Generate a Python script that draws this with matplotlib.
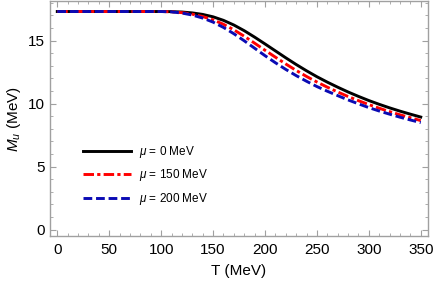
import matplotlib
matplotlib.use("Agg")
import matplotlib.pyplot as plt
from matplotlib.ticker import MultipleLocator

plt.rcParams['font.family'] = ['Liberation Sans', 'DejaVu Sans']
plt.rcParams['mathtext.fontset'] = 'custom'
plt.rcParams['mathtext.rm'] = 'Liberation Sans'
plt.rcParams['mathtext.it'] = 'Liberation Sans:italic'

T = [0, 10, 20, 30, 40, 50, 60, 70, 80, 90, 100, 110, 120, 130, 140, 150, 160, 170, 180,
     190, 200, 210, 220, 230, 240, 250, 260, 270, 280, 290, 300, 310, 320, 330, 340, 350]
M_mu0 = [17.3, 17.3, 17.3, 17.3, 17.3, 17.3, 17.3, 17.3, 17.3, 17.3, 17.3, 17.29, 17.26, 17.19,
         17.07, 16.88, 16.60, 16.23, 15.78, 15.27, 14.73, 14.18, 13.63, 13.10, 12.60, 12.13,
         11.70, 11.30, 10.92, 10.57, 10.24, 9.94, 9.66, 9.40, 9.16, 8.93]
M_mu150 = [17.3, 17.3, 17.3, 17.3, 17.3, 17.3, 17.3, 17.3, 17.3, 17.3, 17.3, 17.28, 17.21, 17.09,
           16.90, 16.64, 16.29, 15.85, 15.34, 14.79, 14.23, 13.68, 13.14, 12.63, 12.15, 11.71,
           11.30, 10.92, 10.56, 10.23, 9.92, 9.63, 9.36, 9.11, 8.88, 8.65]
M_mu200 = [17.3, 17.3, 17.3, 17.3, 17.3, 17.3, 17.3, 17.3, 17.3, 17.3, 17.3, 17.27, 17.18, 17.02,
           16.78, 16.46, 16.04, 15.54, 14.98, 14.39, 13.80, 13.24, 12.71, 12.22, 11.77, 11.35,
           10.98, 10.63, 10.29, 9.98, 9.68, 9.41, 9.16, 8.92, 8.70, 8.49]
labels = [r'$\mu$ = 0 MeV', r'$\mu$ = 150 MeV', r'$\mu$ = 200 MeV']

fig = plt.figure(figsize=(4.36, 2.85), dpi=100)
ax = fig.add_axes([0.1147, 0.172, 0.867, 0.823])

ax.plot(T, M_mu0, color='black', lw=2.1, ls='-', label=labels[0])
ax.plot(T, M_mu150, color='#ff0000', lw=2.1, ls=(0, (3.6, 1.1, 1.1, 1.1)), label=labels[1])
ax.plot(T, M_mu200, color='#0a0ab4', lw=2.1, ls=(0, (3.0, 1.3)), label=labels[2])

ax.set_xlim(-7, 357)
ax.set_ylim(-0.5, 18.1)
ax.xaxis.set_major_locator(MultipleLocator(50))
ax.xaxis.set_minor_locator(MultipleLocator(10))
ax.yaxis.set_major_locator(MultipleLocator(5))
ax.yaxis.set_minor_locator(MultipleLocator(1))

for s in ax.spines.values():
    s.set_color('#a0a0a0')
    s.set_linewidth(1.0)
ax.tick_params(which='both', direction='in', top=True, right=True, color='#a0a0a0',
               labelsize=11, labelcolor='black')
ax.tick_params(which='major', length=4.5, width=0.8)
ax.tick_params(which='minor', length=2.5, width=0.6)
ax.tick_params(axis='x', pad=5)

ax.set_xlabel('T (MeV)', fontsize=11, labelpad=5)
ax.set_ylabel(r'$M_u$ (MeV)', fontsize=11, labelpad=4)

ax.legend(loc='lower left', bbox_to_anchor=(0.06, 0.078), frameon=False, fontsize=8.5,
          handlelength=4.0, handletextpad=0.7, labelspacing=0.65)

fig.savefig('out.png', dpi=100)
